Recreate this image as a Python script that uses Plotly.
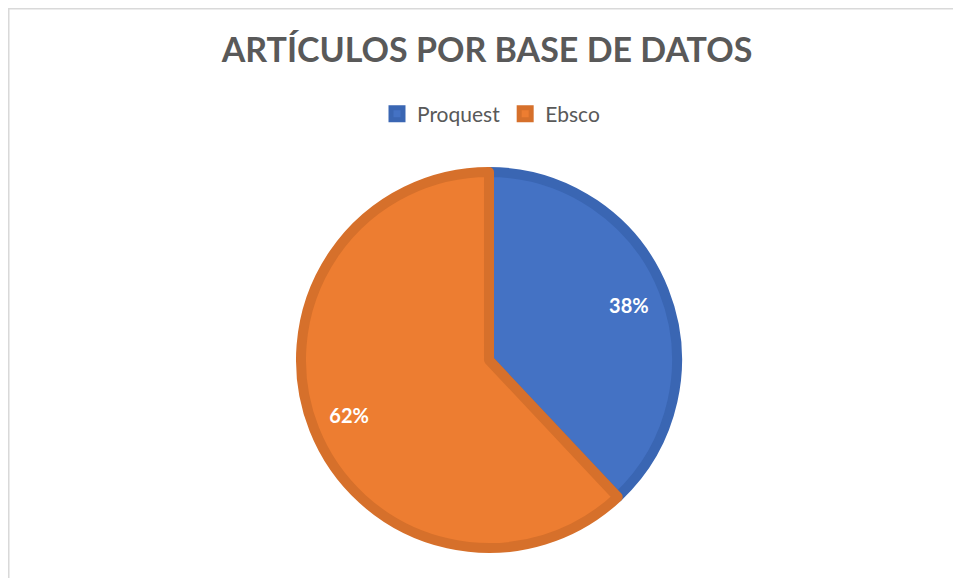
import plotly.graph_objects as go

labels = ["Proquest", "Ebsco"]
values = [38, 62]
fill_colors = ["#4472C4", "#ED7D31"]
edge_colors = ["#3A66B3", "#D6702B"]
title_text = "ARTÍCULOS POR BASE DE DATOS"

W, H = 961, 578
OFF = 8  # page body margin
cx, cy, r = 489 - OFF, 360 - OFF, 188

dom = dict(x=[(cx - 260) / W, (cx + 260) / W],
           y=[1 - (cy + r) / H, 1 - (cy - r) / H])

fig = go.Figure()
fig.add_trace(go.Pie(
    labels=labels,
    values=values,
    sort=False,
    direction="clockwise",
    rotation=0,
    marker=dict(colors=fill_colors, line=dict(color=edge_colors, width=10)),
    textinfo="none",
    hoverinfo="skip",
    domain=dom,
))
# transparent ring carrying the percentage labels near the rim
fig.add_trace(go.Pie(
    labels=labels,
    values=values,
    sort=False,
    direction="clockwise",
    rotation=0,
    hole=0.6,
    marker=dict(colors=["rgba(0,0,0,0)"] * len(values), line=dict(width=0)),
    texttemplate="%{percent:.0%}",
    textposition="inside",
    insidetextorientation="horizontal",
    textfont=dict(family="Lato", size=20, color="white", weight="bold"),
    hoverinfo="skip",
    showlegend=False,
    domain=dom,
))

fig.update_layout(
    width=W, height=H,
    margin=dict(l=0, r=0, t=0, b=0),
    paper_bgcolor="white",
    title=dict(text="<b>" + title_text + "</b>", x=(487 - OFF) / W, xanchor="center",
               y=1 - (50 - OFF) / H, yanchor="middle",
               font=dict(family="Lato", size=34, color="#595959")),
    legend=dict(orientation="h", x=(491 - OFF) / W, xanchor="center", y=1 - (114 - OFF) / H,
                yanchor="middle", font=dict(family="Lato", size=21, color="#595959"),
                itemwidth=30, traceorder="normal"),
    shapes=[dict(type="rect", xref="paper", yref="paper",
                 x0=0.0008, x1=1.02, y0=-0.02, y1=0.9985,
                 line=dict(color="#D9D9D9", width=1.5), layer="below")],
)

fig.write_html("out.html")
